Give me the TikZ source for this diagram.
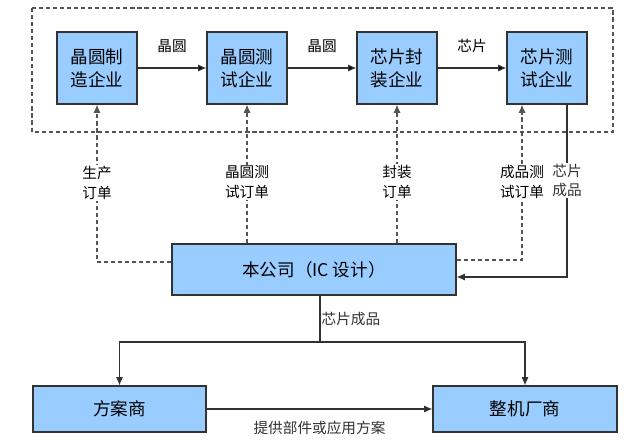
\documentclass[tikz,border=0pt]{standalone}
\usepackage{fontspec}
\newfontfamily\cjk{Noto Sans CJK SC}
\usetikzlibrary{positioning, arrows.meta}
\definecolor{boxblue}{RGB}{153,204,255}
\definecolor{linegray}{RGB}{50,50,50}
\definecolor{dashgray}{RGB}{85,85,85}

\begin{document}
\begin{tikzpicture}[->,
>={Latex[length=7pt, width=6pt]},
line width=0.9pt,
x=0.03cm, y=-0.03cm,
node distance=4.5cm,
block/.style={draw=linegray, fill=boxblue, rectangle, line width=1pt, align=center, font=\cjk\fontsize{15}{19.5}\selectfont, minimum width=2.4cm, minimum height=2.16cm},
lbl/.style={fill=white, inner sep=1pt, align=left, font=\cjk\fontsize{12.5}{17}\selectfont},
order/.style={dash pattern=on 3.5pt off 2.5pt, draw=dashgray}]

\useasboundingbox (0,0) rectangle (640,444);

% outer frame round the four suppliers
\draw[-, order] (32,8) rectangle (613,132);

\node[block]		(A) at (97,68)		{晶圆制\\造企业};
\node[block]		(B)[right of=A]	{晶圆测\\试企业};
\node[block]		(C)[right of=B]	{芯片封\\装企业};
\node[block]		(D)[right of=C]	{芯片测\\试企业};

\node[block, minimum width=8.52cm, minimum height=1.53cm]	(ic) at (314,269.5)	{本公司（IC 设计）};
\node[block, minimum width=5.19cm, minimum height=1.38cm]	(sol) at (119.5,409)	{方案商};
\node[block, minimum width=5.52cm, minimum height=1.38cm]	(oem) at (525,409)	{整机厂商};

\coordinate (split) at (320,342);

\path[->, draw=linegray]
 (A) edge node[lbl, above=0.42cm] {晶圆} (B)
 (B) edge node[lbl, above=0.42cm] {晶圆} (C)
 (C) edge node[lbl, above=0.42cm] {芯片} (D);

% orders
\draw[order] ([yshift=0.225cm]ic.west) -| node[lbl, pos=0.75] {生产\\订单} (A.south);
\draw[order] (B.south |- ic.north) -- node[lbl, pos=0.44] {晶圆测\\试订单} (B.south);
\draw[order] (C.south |- ic.north) -- node[lbl, pos=0.44] {封装\\订单} (C.south);
\draw[order] ([yshift=0.285cm]ic.east) -| node[lbl, pos=0.75] {成品测\\试订单} ([xshift=-0.75cm]D.south);

% chips back
\draw[linegray] ([xshift=0.6cm]D.south) |- node[lbl, pos=0.22] {芯片\\成品} ([yshift=-0.225cm]ic.east);

\draw[-, linegray] (ic.south -| split) -- node[lbl, right] {芯片成品} (split);
\draw[linegray] (split) -| (sol.north);
\draw[linegray] (split) -| (oem.north);
\draw[linegray] (sol) -- node[lbl, below=0.3cm] {提供部件或应用方案} (oem);

\end{tikzpicture}
\end{document}
